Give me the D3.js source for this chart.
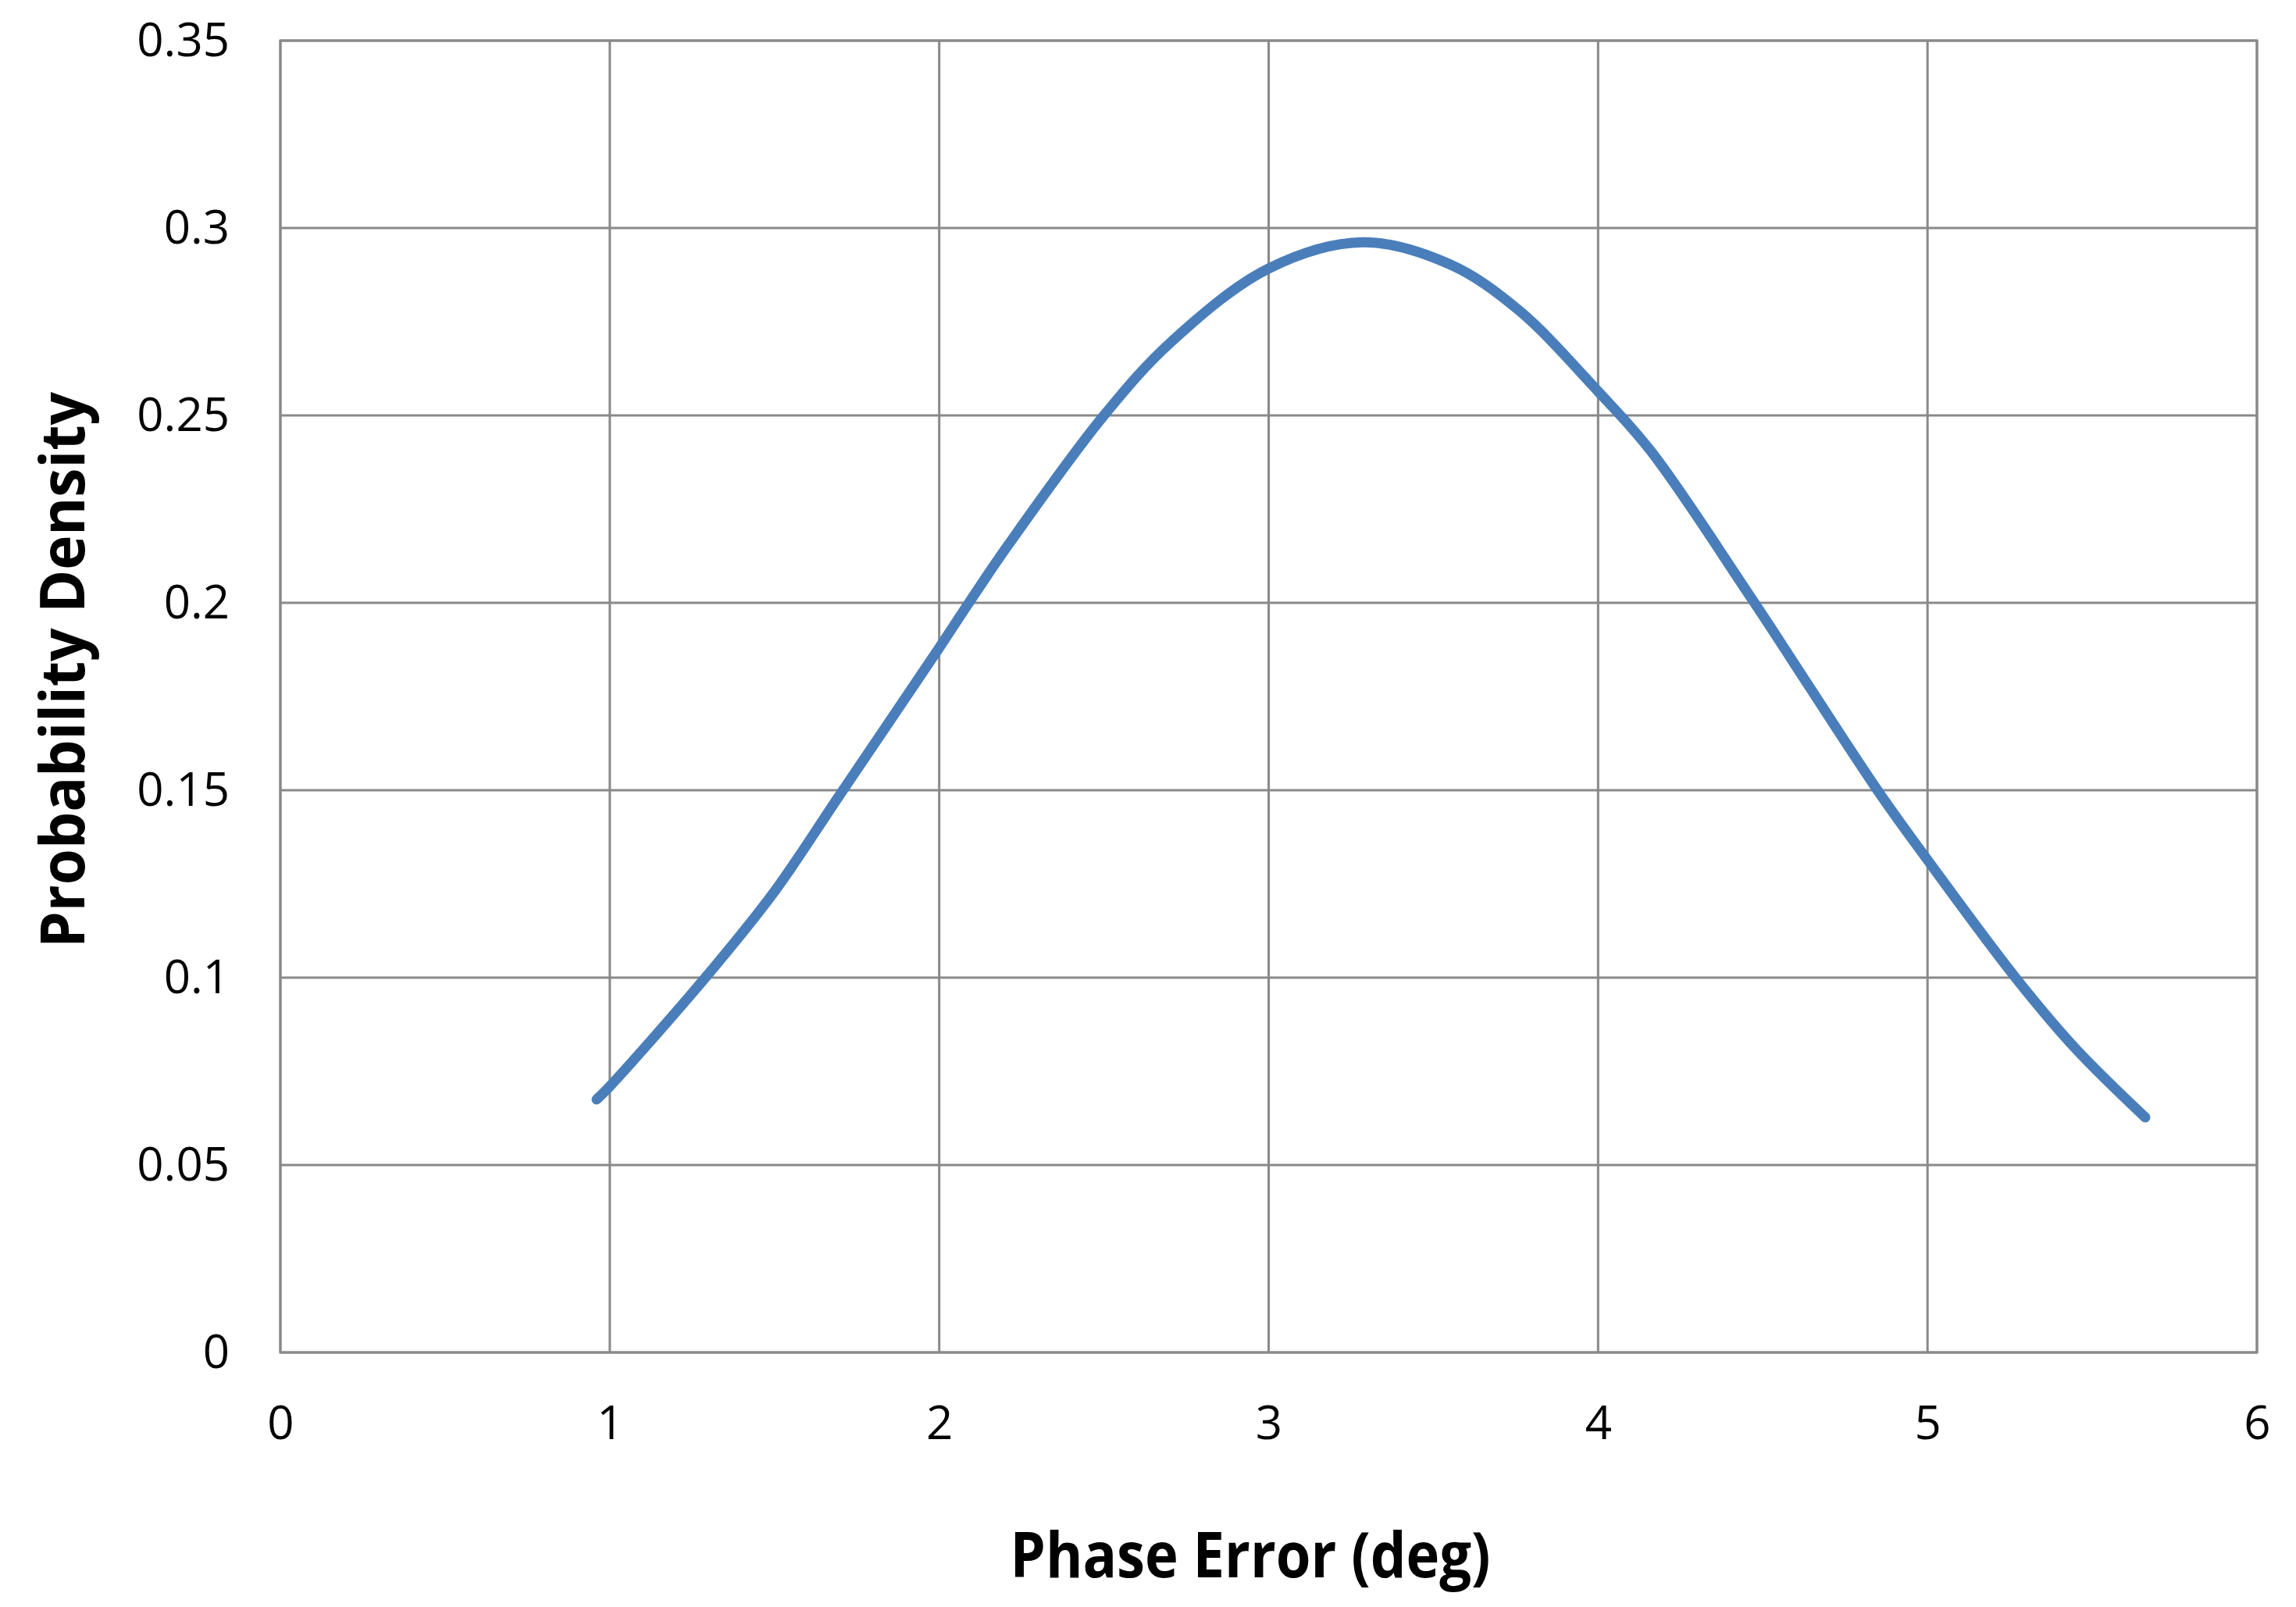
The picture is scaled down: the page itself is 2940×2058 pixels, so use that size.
<!DOCTYPE html>
<html>
<head>
<meta charset="utf-8">
<script src="https://cdn.jsdelivr.net/npm/d3@7"></script>
<style>
	body { margin: 0; background: #fff; }
	svg { display: block; }
</style>
</head>
<body>
<svg id="chart"></svg>
<script>
// values
const phaseErr = [0.96, 1.0, 1.29, 1.5, 1.70, 2.0, 2.09, 2.21, 2.5, 2.705, 3.0, 3.285, 3.55, 3.76, 4.0, 4.16, 4.467, 4.848, 5.0, 5.267, 5.45, 5.661];
const density = [0.0675, 0.071, 0.100, 0.123, 0.149, 0.188, 0.200, 0.2155, 0.250, 0.2697, 0.2892, 0.2962, 0.2903, 0.278, 0.2564, 0.2405, 0.201, 0.150, 0.1314, 0.100, 0.081, 0.0627];

const xTicks = [0, 1, 2, 3, 4, 5, 6];
const yTicks = [0, 0.05, 0.1, 0.15, 0.2, 0.25, 0.3, 0.35];
const yTickLabels = ['0', '0.05', '0.1', '0.15', '0.2', '0.25', '0.3', '0.35'];

const xTitle = 'Phase Error (deg)';
const yTitle = 'Probability Density';

// layout
let width = 2940;
let height = 2058;
let margin = {left: 359, top: 52, right: 50, bottom: 326};
let w = width - margin.left - margin.right;
let h = height - margin.top - margin.bottom;

let gridColor = '#898989';
let lineColor = '#4a7ebb';

let svg = d3.select('#chart')
	.attr('width', width)
	.attr('height', height);

let x = d3.scaleLinear().domain([0, 6]).range([0, w]);
let y = d3.scaleLinear().domain([0, 0.35]).range([h, 0]);

let g = svg.append('g')
	.attr('transform', 'translate(' + margin.left + ',' + margin.top + ')');

// gridlines
g.append('g')
	.attr('class', 'vgrid')
	.selectAll('line')
	.data(xTicks)
	.enter()
	.append('line')
	.attr('x1', d => x(d)).attr('x2', d => x(d))
	.attr('y1', 0).attr('y2', h)
	.style('stroke', gridColor)
	.style('stroke-width', 3);

g.append('g')
	.attr('class', 'hgrid')
	.selectAll('line')
	.data(yTicks)
	.enter()
	.append('line')
	.attr('x1', 0).attr('x2', w)
	.attr('y1', d => y(d)).attr('y2', d => y(d))
	.style('stroke', gridColor)
	.style('stroke-width', 3);

g.append('rect')
	.attr('width', w)
	.attr('height', h)
	.style('fill', 'none')
	.style('stroke', gridColor)
	.style('stroke-width', 3);

// axes (labels only)
let xAxis = g.append('g')
	.attr('transform', 'translate(0,' + h + ')')
	.call(d3.axisBottom(x).tickValues(xTicks).tickSize(0).tickPadding(68).tickFormat(d3.format('d')));

let yAxis = g.append('g')
	.call(d3.axisLeft(y).tickValues(yTicks).tickSize(0).tickPadding(65)
		.tickFormat((d, i) => yTickLabels[i]));

[xAxis, yAxis].forEach(a => {
	a.select('.domain').remove();
	a.selectAll('text')
		.style('font-family', '"Open Sans", sans-serif')
		.style('font-size', '60px')
		.style('fill', '#000');
});

// curve
let pts = phaseErr.map((p, i) => [p, density[i]]);
let line = d3.line()
	.x(d => x(d[0]))
	.y(d => y(d[1]))
	.curve(d3.curveCatmullRom.alpha(0.5));

g.append('path')
	.datum(pts)
	.attr('d', line)
	.style('fill', 'none')
	.style('stroke', lineColor)
	.style('stroke-width', 13)
	.style('stroke-linecap', 'round')
	.style('stroke-linejoin', 'round');

// axis titles
svg.append('text')
	.attr('x', 1601)
	.attr('y', 2020)
	.attr('text-anchor', 'middle')
	.attr('textLength', 615)
	.attr('lengthAdjust', 'spacingAndGlyphs')
	.style('font-family', '"Open Sans", sans-serif')
	.style('font-weight', 'bold')
	.style('font-size', '80px')
	.text(xTitle);

svg.append('text')
	.attr('transform', 'translate(108,858) rotate(-90)')
	.attr('text-anchor', 'middle')
	.attr('textLength', 712)
	.attr('lengthAdjust', 'spacingAndGlyphs')
	.style('font-family', '"Open Sans", sans-serif')
	.style('font-weight', 'bold')
	.style('font-size', '78px')
	.text(yTitle);
</script>
</body>
</html>
